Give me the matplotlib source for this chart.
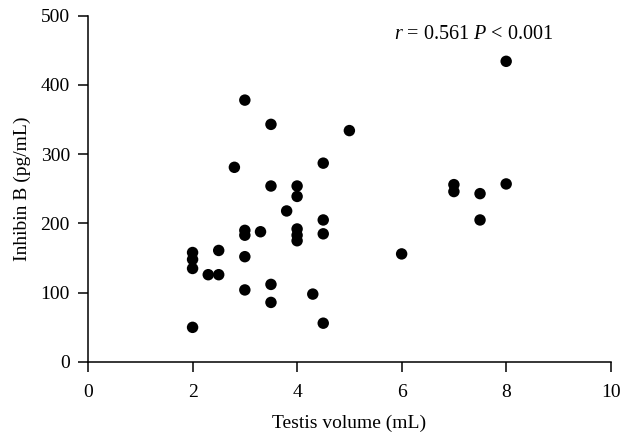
"""Scatter of inhibin B against testis volume."""

import matplotlib

matplotlib.use("Agg")

import matplotlib.pyplot as plt

volume = [3, 3.5, 5, 4.5, 2.8, 3.5, 4, 4, 3.8, 4.5, 4.5, 3, 3, 3.3, 4, 4, 4,
          2, 2, 2, 2.5, 2.3, 2.5, 3, 3, 3.5, 3.5, 4.3, 4.5, 2,
          8, 7, 7, 7.5, 8, 7.5, 6]
inhibin_b = [378, 343, 334, 287, 281, 254, 254, 239, 218, 205, 185, 190, 183, 188, 192, 183, 175,
             158, 148, 135, 161, 126, 126, 152, 104, 112, 86, 98, 56, 50,
             434, 256, 246, 243, 257, 205, 156]

x_ticks = [0, 2, 4, 6, 8, 10]
y_ticks = [0, 100, 200, 300, 400, 500]

plt.rcParams["font.family"] = ["Liberation Serif", "DejaVu Serif"]
plt.rcParams["mathtext.fontset"] = "custom"
plt.rcParams["mathtext.it"] = "Liberation Serif:italic"
plt.rcParams["mathtext.rm"] = "Liberation Serif"

fig = plt.figure(figsize=(6.2, 4.33), dpi=100)
ax = fig.add_axes([0.142, 0.164, 0.843, 0.800])

ax.scatter(volume, inhibin_b, s=68, color="black", edgecolors="none", zorder=3, clip_on=False)

ax.set_xlim(0, 10)
ax.set_ylim(0, 500)
ax.set_xticks(x_ticks)
ax.set_yticks(y_ticks)
ax.tick_params(direction="out", length=7, width=1.1, labelsize=14, colors="black")
ax.tick_params(axis="x", pad=9)
ax.tick_params(axis="y", pad=6)
ax.spines[["top", "right"]].set_visible(False)
for s in ("left", "bottom"):
    ax.spines[s].set_linewidth(1.1)

ax.set_xlabel("Testis volume (mL)", fontsize=14, labelpad=10)
ax.set_ylabel("Inhibin B (pg/mL)", fontsize=14, labelpad=7)

ax.text(7.37, 473, r"$r$ = 0.561 $P$ < 0.001", ha="center", va="center", fontsize=14.5)

fig.savefig("out.png", dpi=100)
